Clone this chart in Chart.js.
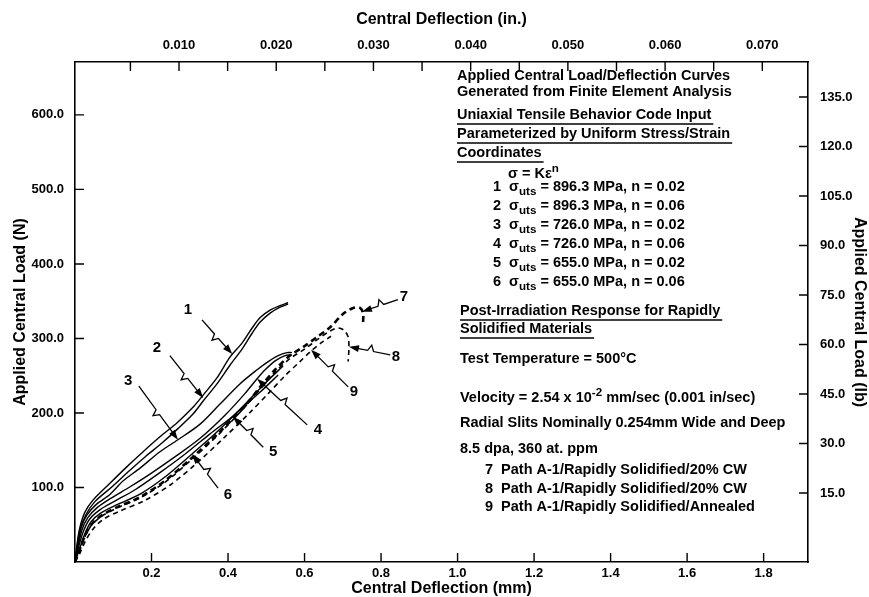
<!DOCTYPE html>
<html>
<head>
<meta charset="utf-8">
<title>Applied Central Load / Deflection Curves</title>
<script src="https://cdn.jsdelivr.net/npm/chart.js@4.4.1/dist/chart.umd.min.js"></script>
<style>
  html, body { margin: 0; padding: 0; background: #fff; }
  #wrap { width: 869px; height: 597px; }
</style>
</head>
<body>
<div id="wrap"><canvas id="loadChart" width="869" height="597"></canvas></div>
<script>
// curves: deflection (mm) and load (N)
const curve1X = [0, 0.005, 0.013, 0.026, 0.047, 0.092, 0.136, 0.178, 0.222, 0.267, 0.309, 0.335, 0.371, 0.405, 0.437, 0.463, 0.484, 0.510, 0.536, 0.557];
const curve1Y = [0, 23, 47, 67, 83, 106, 128, 148, 168, 187, 208, 224, 247, 275, 294, 314, 328, 338, 344, 348];

const curve2X = [0, 0.005, 0.013, 0.029, 0.052, 0.097, 0.139, 0.183, 0.228, 0.269, 0.309, 0.335, 0.371, 0.405, 0.437, 0.463, 0.484, 0.510, 0.536, 0.557];
const curve2Y = [0, 19, 43, 64, 81, 101, 121, 141, 160, 179, 199, 216, 239, 264, 286, 307, 322, 334, 342, 346];

const curve3X = [0, 0.008, 0.016, 0.031, 0.055, 0.092, 0.126, 0.170, 0.222, 0.269, 0.327, 0.379, 0.431, 0.476, 0.505, 0.531, 0.554, 0.567];
const curve3Y = [0, 23, 46, 63, 77, 91, 109, 126, 148, 164, 185, 212, 239, 258, 269, 277, 281, 281];

const curve4X = [0, 0.008, 0.018, 0.034, 0.058, 0.092, 0.144, 0.196, 0.261, 0.327, 0.392, 0.444, 0.476, 0.497, 0.523, 0.549, 0.567];
const curve4Y = [0, 20, 43, 60, 73, 85, 101, 118, 141, 166, 197, 226, 246, 258, 270, 277, 278];

const curve5X = [0, 0.008, 0.021, 0.039, 0.065, 0.105, 0.157, 0.222, 0.288, 0.353, 0.413, 0.458, 0.497, 0.544];
const curve5Y = [0, 17, 40, 58, 70, 82, 97, 120, 145, 172, 196, 219, 240, 263];

const curve6X = [0, 0.011, 0.024, 0.042, 0.068, 0.110, 0.170, 0.235, 0.306, 0.366, 0.431, 0.484, 0.531];
const curve6Y = [0, 16, 36, 54, 66, 77, 91, 114, 145, 172, 204, 228, 251];

const curve7X = [0, 0.011, 0.026, 0.044, 0.071, 0.112, 0.170, 0.235, 0.306, 0.379, 0.444, 0.484, 0.523, 0.562, 0.601, 0.633, 0.667, 0.701, 0.727, 0.745, 0.753, 0.753];
const curve7Y = [0, 15, 35, 51, 63, 74, 87, 109, 140, 175, 209, 235, 258, 277, 290, 302, 315, 333, 341, 341, 334, 321];

const curve8X = [0, 0.011, 0.026, 0.044, 0.071, 0.112, 0.170, 0.235, 0.306, 0.379, 0.444, 0.484, 0.523, 0.562, 0.601, 0.635, 0.667, 0.688, 0.703, 0.714, 0.716, 0.714];
const curve8Y = [0, 13, 34, 50, 62, 73, 86, 107, 138, 173, 208, 232, 255, 273, 286, 299, 310, 314, 311, 302, 287, 269];

const curve9X = [0, 0.013, 0.029, 0.050, 0.076, 0.120, 0.180, 0.248, 0.319, 0.392, 0.458, 0.505, 0.549, 0.588, 0.617, 0.646, 0.669];
const curve9Y = [0, 12, 30, 46, 58, 69, 82, 103, 133, 168, 201, 226, 250, 269, 283, 295, 303];

// tick values
const mmTicks = [0.2, 0.4, 0.6, 0.8, 1.0, 1.2, 1.4, 1.6, 1.8];
const inchTicks = [0.005, 0.010, 0.015, 0.020, 0.025, 0.030, 0.035, 0.040, 0.045, 0.050, 0.055, 0.060, 0.065, 0.070];
const newtonTicks = [100, 200, 300, 400, 500, 600];
const poundTicks = [15, 30, 45, 60, 75, 90, 105, 120, 135];

// curve labels: number, label spot, leader start, arrow tip (mm, N)
const curveNames = ["1", "2", "3", "4", "5", "6", "7", "8", "9"];
const labelX = [0.295, 0.214, 0.139, 0.635, 0.518, 0.400, 0.860, 0.839, 0.729];
const labelY = [338, 287, 243, 177, 148, 90, 356, 275, 228];
const leaderX = [0.332, 0.248, 0.167, 0.607, 0.492, 0.374, 0.844, 0.824, 0.714];
const leaderY = [325, 277, 236, 184, 154, 99, 352, 278, 235];
const tipX = [0.411, 0.335, 0.269, 0.476, 0.413, 0.306, 0.750, 0.716, 0.617];
const tipY = [279, 220, 164, 246, 195, 145, 336, 289, 285];

// legend text
const modelUts = ["896.3", "896.3", "726.0", "726.0", "655.0", "655.0"];
const modelN = ["0.02", "0.06", "0.02", "0.06", "0.02", "0.06"];
const testPaths = ["Path A-1/Rapidly Solidified/20% CW", "Path A-1/Rapidly Solidified/20% CW", "Path A-1/Rapidly Solidified/Annealed"];

const fontFamily = "'Liberation Sans', Arial, Helvetica, sans-serif";

function makeSeries(xs, ys) {
  return xs.map((x, i) => ({ x: x, y: ys[i] }));
}

function solid(name, xs, ys) {
  return { label: name, data: makeSeries(xs, ys), borderColor: "#000", borderWidth: 1.4, pointRadius: 0, tension: 0.3, fill: false };
}

function dashed(name, xs, ys, width, dash) {
  return { label: name, data: makeSeries(xs, ys), borderColor: "#000", borderWidth: width, borderDash: dash, pointRadius: 0, tension: 0.3, fill: false };
}

function drawRich(ctx, parts, x, y, size) {
  // parts: [text, mode] with mode "", "sub" or "sup"
  let cx = x;
  parts.forEach(([txt, mode]) => {
    const s = mode ? size * 0.8 : size;
    ctx.font = "bold " + s + "px " + fontFamily;
    const dy = mode === "sub" ? size * 0.3 : mode === "sup" ? -size * 0.35 : 0;
    ctx.fillText(txt, cx, y + dy);
    cx += ctx.measureText(txt).width;
  });
  return cx - x;
}

const inwardTicks = {
  id: "inwardTicks",
  afterDraw(chart) {
    const ctx = chart.ctx;
    const area = chart.chartArea;
    const len = 9;
    ctx.save();
    ctx.strokeStyle = "#000";
    ctx.lineWidth = 1.4;
    ctx.beginPath();
    chart.scales.x.ticks.forEach((t) => {
      const px = chart.scales.x.getPixelForValue(t.value);
      ctx.moveTo(px, area.bottom);
      ctx.lineTo(px, area.bottom - len);
    });
    chart.scales.x2.ticks.forEach((t) => {
      const px = chart.scales.x2.getPixelForValue(t.value);
      ctx.moveTo(px, area.top);
      ctx.lineTo(px, area.top + len);
    });
    chart.scales.y.ticks.forEach((t) => {
      const py = chart.scales.y.getPixelForValue(t.value);
      ctx.moveTo(area.left, py);
      ctx.lineTo(area.left + len, py);
    });
    chart.scales.y2.ticks.forEach((t) => {
      const py = chart.scales.y2.getPixelForValue(t.value);
      ctx.moveTo(area.right, py);
      ctx.lineTo(area.right - len, py);
    });
    ctx.stroke();
    ctx.restore();
  },
};

const notes = {
  id: "notes",
  afterDraw(chart) {
    const ctx = chart.ctx;
    const xs = chart.scales.x;
    const ys = chart.scales.y;
    ctx.save();
    ctx.fillStyle = "#000";
    ctx.strokeStyle = "#000";
    ctx.textBaseline = "middle";
    ctx.textAlign = "left";

    const size = 14.5;
    const plain = (txt, x, y, underline) => {
      ctx.font = "bold " + size + "px " + fontFamily;
      ctx.fillText(txt, x, y);
      if (underline) {
        const w = ctx.measureText(txt).width;
        ctx.lineWidth = 1.4;
        ctx.beginPath();
        ctx.moveTo(x, y + 9);
        ctx.lineTo(x + w + 2, y + 9);
        ctx.stroke();
      }
    };

    plain("Applied Central Load/Deflection Curves", 457, 76, false);
    plain("Generated from Finite Element Analysis", 457, 92, false);
    plain("Uniaxial Tensile Behavior Code Input", 457, 115, true);
    plain("Parameterized by Uniform Stress/Strain", 457, 134, true);
    plain("Coordinates", 457, 153, true);
    drawRich(ctx, [["\u03c3 = K\u03b5", ""], ["n", "sup"]], 508, 174, size);
    modelUts.forEach((u, i) => {
      drawRich(ctx, [[(i + 1) + "  \u03c3", ""], ["uts", "sub"], [" = " + u + " MPa, n = " + modelN[i], ""]], 493, 187 + i * 19, size);
    });
    plain("Post-Irradiation Response for Rapidly", 460, 311, true);
    plain("Solidified Materials", 460, 329, true);
    plain("Test Temperature = 500\u00b0C", 460, 359, false);
    drawRich(ctx, [["Velocity = 2.54 x 10", ""], ["-2", "sup"], [" mm/sec (0.001 in/sec)", ""]], 460, 398, size);
    plain("Radial Slits Nominally 0.254mm Wide and Deep", 460, 423, false);
    plain("8.5 dpa, 360 at. ppm", 460, 449, false);
    testPaths.forEach((p, i) => {
      plain((i + 7) + "  " + p, 485, 470 + i * 18.5, false);
    });

    // numbered leaders with a break and an arrow head
    ctx.lineWidth = 1.3;
    curveNames.forEach((name, i) => {
      const sx = xs.getPixelForValue(leaderX[i]);
      const sy = ys.getPixelForValue(leaderY[i]);
      const tx = xs.getPixelForValue(tipX[i]);
      const ty = ys.getPixelForValue(tipY[i]);
      const dx = tx - sx;
      const dy = ty - sy;
      const len = Math.hypot(dx, dy);
      const ux = dx / len;
      const uy = dy / len;
      const nx = -uy;
      const ny = ux;
      const mx = sx + dx * 0.5;
      const my = sy + dy * 0.5;
      ctx.beginPath();
      ctx.moveTo(sx, sy);
      ctx.lineTo(mx - ux * 4, my - uy * 4);
      ctx.lineTo(mx - ux * 1 + nx * 6, my - uy * 1 + ny * 6);
      ctx.lineTo(mx + ux * 2, my + uy * 2);
      ctx.lineTo(tx - ux * 6, ty - uy * 6);
      ctx.stroke();
      ctx.beginPath();
      ctx.moveTo(tx, ty);
      ctx.lineTo(tx - ux * 10 + nx * 3.5, ty - uy * 10 + ny * 3.5);
      ctx.lineTo(tx - ux * 10 - nx * 3.5, ty - uy * 10 - ny * 3.5);
      ctx.closePath();
      ctx.fill();

      ctx.font = "bold 15px " + fontFamily;
      ctx.textAlign = "center";
      ctx.fillText(name, xs.getPixelForValue(labelX[i]), ys.getPixelForValue(labelY[i]));
      ctx.textAlign = "left";
    });
    ctx.restore();
  },
};

const tickFont = { family: fontFamily, size: 13, weight: "bold" };
const titleFont = { family: fontFamily, size: 16, weight: "bold", lineHeight: 1 };
const axisBorder = { display: true, color: "#000", width: 1.6 };
const noGrid = { display: false, drawTicks: false };

const ctx = document.getElementById("loadChart");

const myChart = new Chart(ctx, {
  type: "line",
  data: {
    datasets: [
      solid("1", curve1X, curve1Y),
      solid("2", curve2X, curve2Y),
      solid("3", curve3X, curve3Y),
      solid("4", curve4X, curve4Y),
      solid("5", curve5X, curve5Y),
      solid("6", curve6X, curve6Y),
      dashed("7", curve7X, curve7Y, 2.6, [6, 4]),
      dashed("8", curve8X, curve8Y, 1.6, [5, 4]),
      dashed("9", curve9X, curve9Y, 1.6, [5, 4]),
    ],
  },
  options: {
    responsive: false,
    animation: false,
    devicePixelRatio: 1,
    layout: { padding: 0 },
    scales: {
      x: {
        type: "linear",
        position: "bottom",
        min: 0,
        max: 1.916,
        afterBuildTicks: (scale) => { scale.ticks = mmTicks.map((v) => ({ value: v })); },
        afterFit: (scale) => { scale.height = 35; },
        grid: noGrid,
        border: axisBorder,
        ticks: { padding: 4, color: "#000", font: tickFont, maxRotation: 0, autoSkip: false, callback: (v) => v.toFixed(1) },
        title: { display: true, text: "Central Deflection (mm)", color: "#000", font: titleFont, padding: { top: 0, bottom: 0 } },
      },
      x2: {
        type: "linear",
        position: "top",
        min: -0.0007,
        max: 0.0747,
        afterBuildTicks: (scale) => { scale.ticks = inchTicks.map((v) => ({ value: v })); },
        afterFit: (scale) => { scale.height = 62; },
        grid: noGrid,
        border: axisBorder,
        ticks: {
          padding: 9, color: "#000", font: tickFont, maxRotation: 0, autoSkip: false,
          callback: (v) => (Math.round(v * 1000) % 10 === 0 ? v.toFixed(3) : ""),
        },
        title: { display: true, text: "Central Deflection (in.)", color: "#000", font: titleFont, padding: { top: 12, bottom: 0 } },
      },
      y: {
        type: "linear",
        position: "left",
        min: 0,
        max: 671,
        afterBuildTicks: (scale) => { scale.ticks = newtonTicks.map((v) => ({ value: v })); },
        afterFit: (scale) => { scale.width = 75; },
        grid: noGrid,
        border: axisBorder,
        ticks: { padding: 11, color: "#000", font: tickFont, callback: (v) => v.toFixed(1) },
        title: { display: true, text: "Applied Central Load (N)", color: "#000", font: titleFont, padding: { top: 13, bottom: 0 } },
      },
      y2: {
        type: "linear",
        position: "right",
        min: -5.9,
        max: 145.6,
        afterBuildTicks: (scale) => { scale.ticks = poundTicks.map((v) => ({ value: v })); },
        afterFit: (scale) => { scale.width = 61; },
        grid: noGrid,
        border: axisBorder,
        ticks: { padding: 12, color: "#000", font: tickFont, callback: (v) => v.toFixed(1) },
        title: { display: true, text: "Applied Central Load (lb)", color: "#000", font: titleFont, padding: { top: 2, bottom: 0 } },
      },
    },
    plugins: {
      legend: { display: false },
      tooltip: { enabled: false },
    },
  },
  plugins: [inwardTicks, notes],
});
</script>
</body>
</html>
